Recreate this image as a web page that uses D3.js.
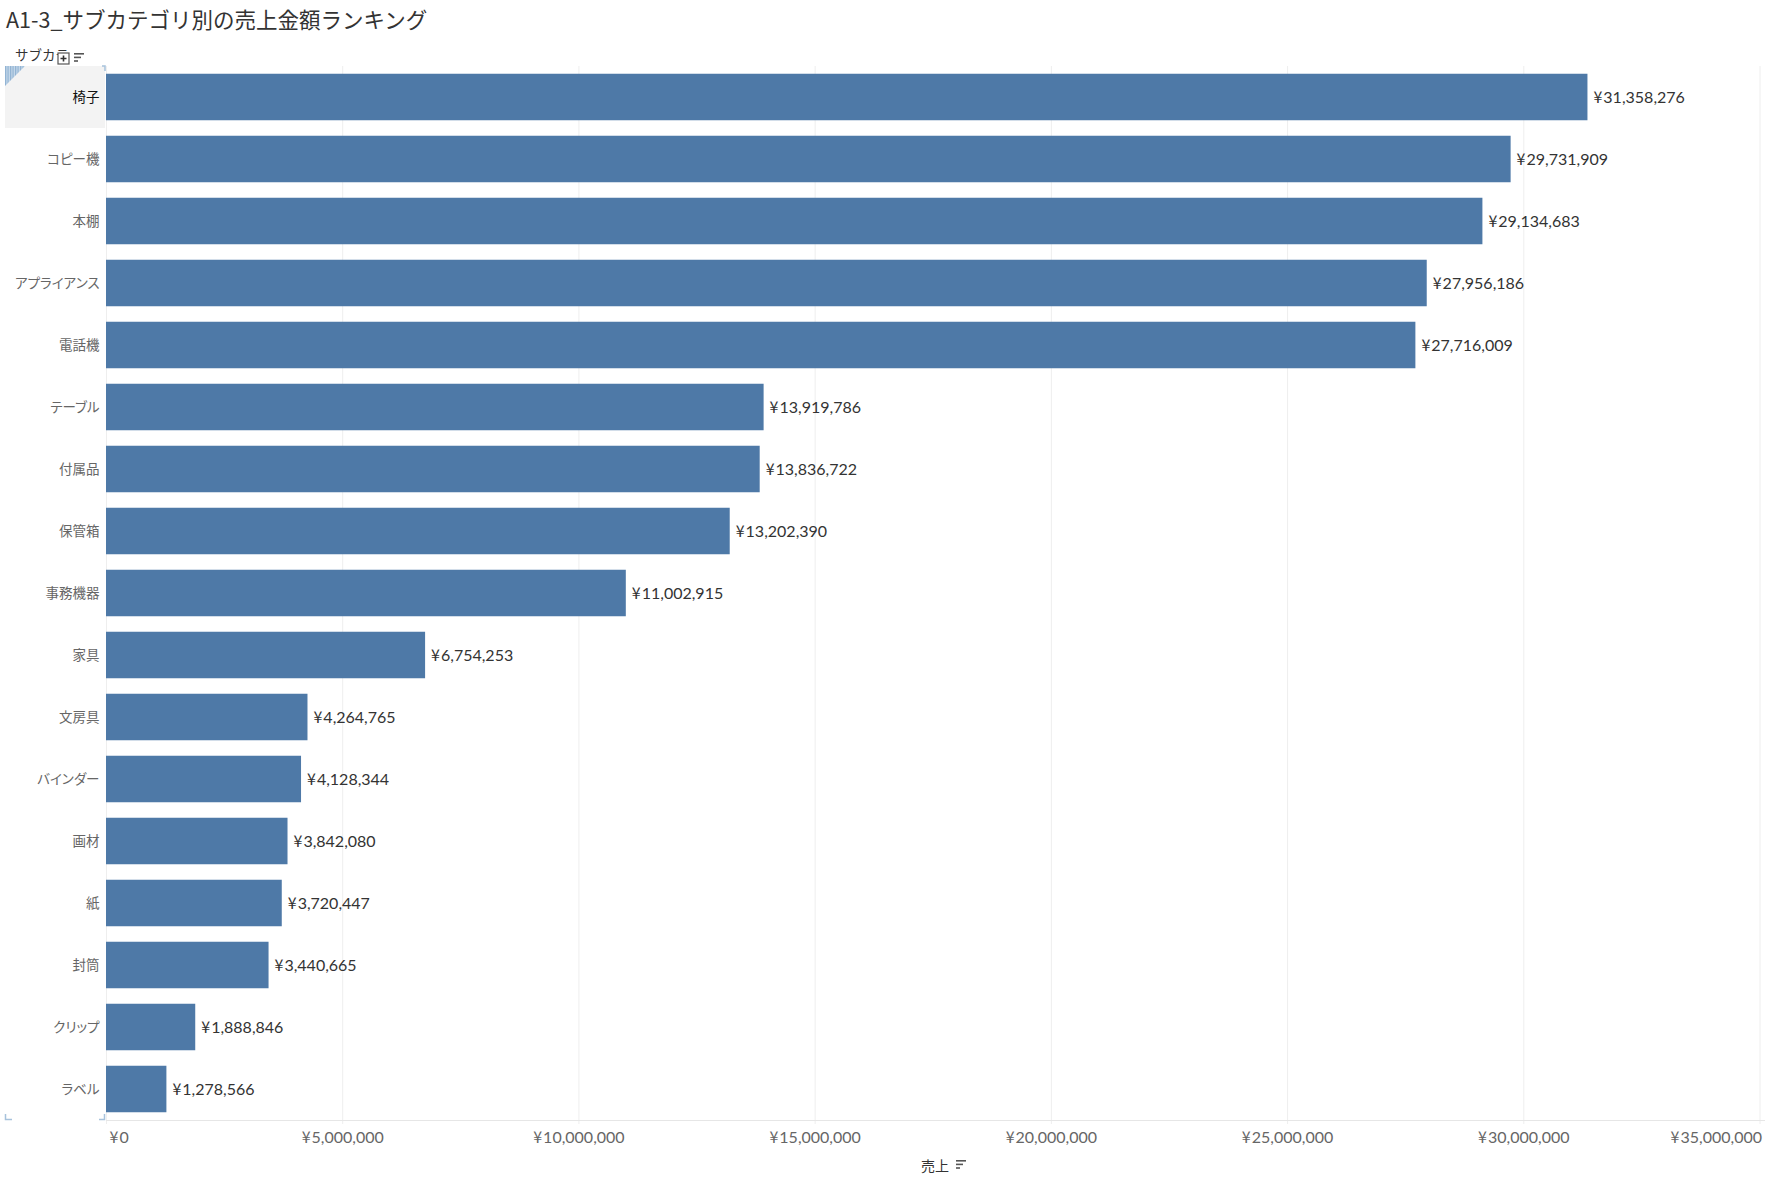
<!DOCTYPE html>
<html>
<head>
<meta charset="utf-8">
<script src="https://cdn.jsdelivr.net/npm/d3@7"></script>
<style>
  html, body { margin: 0; padding: 0; background: #fff; }
  svg { display: block; }
  text.palt { font-feature-settings: "palt"; }
</style>
</head>
<body>
<svg></svg>
<script>
// sub categories, sorted by sales
const categories = ["椅子", "コピー機", "本棚", "アプライアンス", "電話機", "テーブル", "付属品", "保管箱",
  "事務機器", "家具", "文房具", "バインダー", "画材", "紙", "封筒", "クリップ", "ラベル"];
const sales = [31358276, 29731909, 29134683, 27956186, 27716009, 13919786, 13836722, 13202390,
  11002915, 6754253, 4264765, 4128344, 3842080, 3720447, 3440665, 1888846, 1278566];
const tickValues = [0, 5000000, 10000000, 15000000, 20000000, 25000000, 30000000, 35000000];

const rows = categories.map((c, i) => ({name: c, value: sales[i]}));

const WIDTH = 1775;
const HEIGHT = 1182;
const PLOT = {left: 106, right: 1759.5, top: 66, bottom: 1120};
const BLUE = '#4e79a7';
const FONT = "Lato, 'Noto Sans CJK JP', sans-serif";
const JP = "'Noto Sans CJK JP', sans-serif";

const svg = d3.select('svg')
  .attr('width', WIDTH)
  .attr('height', HEIGHT);

const xScale = d3.scaleLinear().domain([0, 35000000]).range([PLOT.left, PLOT.right]);
const yScale = d3.scaleBand().domain(categories).range([PLOT.top, PLOT.bottom])
  .paddingInner(0.25).paddingOuter(0.125);

const num = d3.format(',');
// yen mark from the JP font, digits from Lato
function yenText(sel, v) {
  sel.text(null);
  sel.append('tspan').attr('font-family', JP).text('¥');
  sel.append('tspan').attr('dx', 1).text(num(v));
}

// title
svg.append('text')
  .attr('x', 6).attr('y', 28)
  .attr('font-family', JP)
  .attr('font-size', 21.5)
  .attr('fill', '#333')
  .text('A1-3_サブカテゴリ別の売上金額ランキング');

// row header
svg.append('text')
  .attr('x', 15).attr('y', 60)
  .attr('font-family', JP)
  .attr('font-size', 13.5)
  .attr('fill', '#333')
  .text('サブカテ');
const hdrIcon = svg.append('g').attr('transform', 'translate(58,53)');
hdrIcon.append('rect').attr('width', 11).attr('height', 11).attr('fill', '#fff')
  .attr('stroke', '#555').attr('stroke-width', 1.2);
hdrIcon.append('path').attr('d', 'M2.5,5.5H8.5M5.5,2.5V8.5').attr('stroke', '#333').attr('stroke-width', 1.6);
function sortIcon(x, y) {
  const g = svg.append('g').attr('transform', `translate(${x},${y})`);
  [10, 7, 4].forEach((w, i) => {
    g.append('rect').attr('x', 0).attr('y', i * 3.6).attr('width', w).attr('height', 1.6).attr('fill', '#555');
  });
}
sortIcon(74, 53);

// highlighted first row cell
svg.append('rect')
  .attr('x', 5).attr('y', PLOT.top)
  .attr('width', PLOT.left - 6).attr('height', yScale.step())
  .attr('fill', '#f3f3f3');
const pat = svg.append('defs').append('pattern')
  .attr('id', 'hatch').attr('patternUnits', 'userSpaceOnUse')
  .attr('width', 2.5).attr('height', 4);
pat.append('rect').attr('width', 2.5).attr('height', 4).attr('fill', '#c6d9ea');
pat.append('rect').attr('width', 1.2).attr('height', 4).attr('fill', '#8fb2d3');
svg.append('path')
  .attr('d', `M5,${PLOT.top}H25L5,${PLOT.top + 20}Z`)
  .attr('fill', 'url(#hatch)');
svg.append('path')
  .attr('d', `M${PLOT.left - 4},${PLOT.top}H${PLOT.left - 1}V${PLOT.top + 5}`)
  .attr('fill', 'none').attr('stroke', '#a7c2dc').attr('stroke-width', 1.5);
svg.append('path')
  .attr('d', `M5.5,${PLOT.bottom - 6}V${PLOT.bottom - 0.5}H12`)
  .attr('fill', 'none').attr('stroke', '#a7c2dc').attr('stroke-width', 1.5);
svg.append('path')
  .attr('d', `M${PLOT.left - 7},${PLOT.bottom - 0.5}H${PLOT.left - 1.5}V${PLOT.bottom - 6}`)
  .attr('fill', 'none').attr('stroke', '#a7c2dc').attr('stroke-width', 1.5);

// gridlines + x axis
const xAxis = svg.append('g')
  .attr('transform', `translate(0, ${PLOT.bottom})`)
  .call(d3.axisBottom(xScale).tickValues(tickValues)
    .tickSizeInner(-(PLOT.bottom - PLOT.top)).tickSizeOuter(0).tickPadding(12));
xAxis.select('.domain').remove();
xAxis.selectAll('.tick line')
  .attr('stroke', '#eeeeee')
  .attr('y2', -(PLOT.bottom - PLOT.top))
  .attr('y1', 4);
xAxis.selectAll('.tick text')
  .attr('font-family', FONT)
  .attr('font-size', 16)
  .attr('fill', '#666')
  .attr('text-anchor', (d, i) => i === 0 ? 'start' : (i === tickValues.length - 1 ? 'end' : 'middle'))
  .attr('dx', (d, i) => i === 0 ? 3 : (i === tickValues.length - 1 ? 2 : 0))
  .each(function (d) { yenText(d3.select(this), d); });
svg.append('line')
  .attr('x1', PLOT.left).attr('x2', 1765)
  .attr('y1', PLOT.bottom + 0.5).attr('y2', PLOT.bottom + 0.5)
  .attr('stroke', '#e6e6e6');

// axis title
svg.append('text')
  .attr('x', 921).attr('y', 1170.5)
  .attr('font-family', JP)
  .attr('font-size', 14)
  .attr('fill', '#333')
  .text('売上');
sortIcon(956, 1160);

// bars
svg.selectAll('.bar')
  .data(rows, d => d.name)
  .enter()
  .append('rect')
  .attr('class', 'bar')
  .attr('x', xScale(0))
  .attr('y', d => yScale(d.name))
  .attr('width', d => xScale(d.value) - xScale(0))
  .attr('height', yScale.bandwidth())
  .attr('fill', BLUE);

// row labels
svg.selectAll('.cat')
  .data(rows, d => d.name)
  .enter()
  .append('text')
  .attr('class', 'cat palt')
  .attr('x', 99.5)
  .attr('y', d => yScale(d.name) + yScale.bandwidth() / 2)
  .attr('dy', '0.36em')
  .attr('text-anchor', 'end')
  .attr('font-family', JP)
  .attr('font-size', 13.5)
  .attr('fill', (d, i) => i === 0 ? '#111' : '#666')
  .text(d => d.name);

// value labels
svg.selectAll('.val')
  .data(rows, d => d.name)
  .enter()
  .append('text')
  .attr('class', 'val')
  .attr('x', d => xScale(d.value) + 6)
  .attr('y', d => yScale(d.name) + yScale.bandwidth() / 2)
  .attr('dy', '0.36em')
  .attr('font-family', FONT)
  .attr('font-size', 16)
  .attr('fill', '#333')
  .each(function (d) { yenText(d3.select(this), d.value); });
</script>
</body>
</html>
